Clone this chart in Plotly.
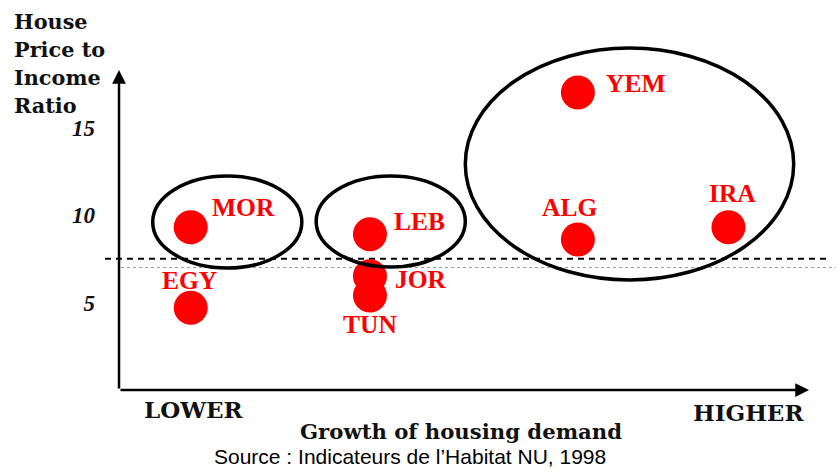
import plotly.graph_objects as go

# ---------------- data ----------------
countries = ["MOR", "EGY", "LEB", "JOR", "TUN", "ALG", "YEM", "IRA"]
growth = [1.0, 1.0, 3.5, 3.5, 3.5, 6.4, 6.4, 8.5]          # growth of housing demand (relative)
price_income = [9.3, 4.7, 8.9, 6.5, 5.4, 8.6, 17.0, 9.3]   # house price to income ratio
y_ticks = [5, 10, 15]
dashed_level = 7.5
dotted_level = 7.0
# groups (x0, x1, y0, y1) drawn as ellipses
groups = [(0.47, 2.55, 6.97, 12.23), (2.75, 4.83, 7.03, 12.23), (4.83, 9.41, 6.29, 19.54)]

# ---------------- style ----------------
label_offsets = {  # pixel offsets (dx, dy up) of country labels
    "MOR": (53, 19), "EGY": (-1, 26), "LEB": (50, 12), "JOR": (51, -4),
    "TUN": (0, -30), "ALG": (-8, 31), "YEM": (58, 8), "IRA": (4, 33),
}
W, H = 836, 472
L, R, T, B = 119, 0, 40, 82
PW, PH = W - L - R, H - T - B
X_RANGE = [0, 10]
Y_RANGE = [0, 20]


def px(xp):
    return (xp - L) / PW


def py(yp):
    return (H - B - yp) / PH


fig = go.Figure()
fig.add_trace(go.Scatter(
    x=growth, y=price_income, mode="markers",
    marker=dict(size=34, color="#ff0000", line=dict(width=0)),
    hoverinfo="text", text=countries, showlegend=False, cliponaxis=False,
))

serif_lab = dict(family="Liberation Serif, Times New Roman, serif", size=25.5, color="#ff0000")
annotations = []
for c, gx, gy in zip(countries, growth, price_income):
    dx, dy = label_offsets[c]
    annotations.append(dict(x=gx, y=gy, xref="x", yref="y", text="<b>%s</b>" % c,
                            showarrow=False, xshift=dx, yshift=dy + 1,
                            xanchor="center", yanchor="middle", font=serif_lab))

title_font = dict(family="DejaVu Serif", size=20.8, color="#111111")
for txt, yc in [("House", 20), ("Price to", 48.5), ("Income", 76), ("Ratio", 104.5)]:
    annotations.append(dict(x=px(12), y=py(yc + 1), xref="paper", yref="paper",
                            text="<b>%s</b>" % txt, showarrow=False,
                            xanchor="left", yanchor="middle", font=title_font))

end_font = dict(family="DejaVu Serif", size=23, color="#111111")
annotations.append(dict(x=px(194), y=py(409), xref="paper", yref="paper", text="<b>LOWER</b>",
                        showarrow=False, xanchor="center", yanchor="middle", font=end_font))
annotations.append(dict(x=px(748), y=py(412), xref="paper", yref="paper", text="<b>HIGHER</b>",
                        showarrow=False, xanchor="center", yanchor="middle", font=end_font))
annotations.append(dict(x=px(461), y=py(431), xref="paper", yref="paper",
                        text="<b>Growth of housing demand</b>", showarrow=False,
                        xanchor="center", yanchor="middle",
                        font=dict(family="DejaVu Serif", size=21.2, color="#111111")))
annotations.append(dict(x=px(410), y=py(456), xref="paper", yref="paper",
                        text="Source : Indicateurs de l\u2019Habitat NU, 1998", showarrow=False,
                        xanchor="center", yanchor="middle",
                        font=dict(family="Liberation Sans, Arial, sans-serif", size=21, color="#000000")))

# axis arrows
annotations.append(dict(x=0, y=(H - B - 70) / PH * (Y_RANGE[1] - Y_RANGE[0]), xref="x", yref="y",
                        ax=0, ay=0, axref="x", ayref="y", showarrow=True,
                        arrowhead=2, arrowsize=1.1, arrowwidth=2.5, arrowcolor="#000000", text=""))
annotations.append(dict(x=(809 - L) / PW * (X_RANGE[1] - X_RANGE[0]), y=0, xref="x", yref="y",
                        ax=0, ay=0, axref="x", ayref="y", showarrow=True,
                        arrowhead=2, arrowsize=1.1, arrowwidth=2.5, arrowcolor="#000000", text=""))

shapes = []
for (x0, x1, y0, y1) in groups:
    shapes.append(dict(type="circle", xref="x", yref="y", x0=x0, x1=x1, y0=y0, y1=y1,
                       line=dict(color="#000000", width=3.5), layer="above"))
shapes.append(dict(type="line", xref="paper", yref="y", x0=px(105), x1=px(828),
                   y0=dashed_level, y1=dashed_level,
                   line=dict(color="#000000", width=2, dash="6px,5px"), layer="below"))
shapes.append(dict(type="line", xref="paper", yref="y", x0=px(121), x1=px(836),
                   y0=dotted_level, y1=dotted_level,
                   line=dict(color="#9a9a9a", width=1.2, dash="dot"), layer="below"))

fig.update_layout(
    width=W, height=H, margin=dict(l=L, r=R, t=T, b=B),
    paper_bgcolor="white", plot_bgcolor="white",
    xaxis=dict(range=X_RANGE, showgrid=False, zeroline=False, showline=False,
               showticklabels=False, ticks=""),
    yaxis=dict(range=Y_RANGE, showgrid=False, zeroline=False, showline=False,
               tickvals=y_ticks, ticktext=["<b><i>%d</i></b>" % v for v in y_ticks], ticks="",
               ticklabelstandoff=23,
               tickfont=dict(family="Liberation Serif, Times New Roman, serif", size=23,
                             color="#111111")),
    annotations=annotations, shapes=shapes, showlegend=False,
)

fig.write_html("out.html", config={"displayModeBar": False})

# remove the default page margin so the figure sits at the window's top-left corner
with open("out.html", "r", encoding="utf-8") as f:
    html = f.read()
html = html.replace("<head>", "<head><style>html,body{margin:0;padding:0;overflow:hidden;}</style>", 1)
with open("out.html", "w", encoding="utf-8") as f:
    f.write(html)
